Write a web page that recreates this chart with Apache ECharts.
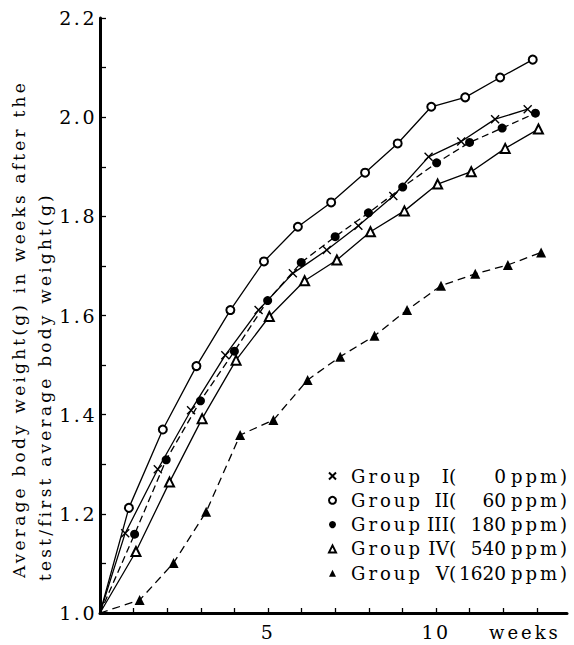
<!DOCTYPE html>
<html><head><meta charset="utf-8">
<script src="https://cdn.jsdelivr.net/npm/echarts@6/dist/echarts.min.js"></script>
<style>
html,body{margin:0;padding:0;background:#fff;}
#chart{width:574px;height:645px;}
#chart text[style*="17px"]{letter-spacing:3.2px;}
#chart text[style*="18px"]{letter-spacing:3px;}
#chart text[style*="19px"]{letter-spacing:2.5px;}
</style></head><body><div id="chart"></div>
<script>
// ---- data ----
const yTitleLine1 = 'Average body weight(g) in weeks after the';
const yTitleLine2 = 'test/first average body weight(g)';
const xAxisName = 'weeks';
const xTickLabels = [5, 10];
const xMinorTicks = [1,2,3,4,5,6,7,8,9,10,11,12,13];
const yTickLabels = [1.0, 1.2, 1.4, 1.6, 1.8, 2.0, 2.2];

const groupNames = ['Group I','Group II','Group III','Group IV','Group V'];
const groupNumerals = ['I','II','III','IV','V'];
const groupDoses = ['0','60','180','540','1620'];
const doseUnit = 'ppm';

const groupI_weeks  = [0, 0.75, 1.72, 2.71, 3.73, 4.72, 5.74, 6.75, 7.69, 8.73, 9.78, 10.75, 11.76, 12.73];
const groupI_vals   = [1.0, 1.161, 1.290, 1.409, 1.520, 1.611, 1.685, 1.732, 1.781, 1.841, 1.920, 1.951, 1.996, 2.016];
const groupII_weeks = [0, 0.86, 1.87, 2.87, 3.88, 4.88, 5.89, 6.88, 7.89, 8.86, 9.86, 10.87, 11.91, 12.88];
const groupII_vals  = [1.0, 1.212, 1.370, 1.498, 1.611, 1.709, 1.779, 1.828, 1.888, 1.947, 2.021, 2.040, 2.080, 2.116];
const groupIII_weeks= [0, 1.03, 1.97, 2.99, 4.00, 4.99, 5.99, 7.00, 7.99, 9.01, 10.02, 11.00, 11.97, 12.96];
const groupIII_vals = [1.0, 1.159, 1.309, 1.428, 1.528, 1.630, 1.707, 1.759, 1.807, 1.859, 1.908, 1.949, 1.978, 2.008];
const groupIV_weeks = [0, 1.07, 2.07, 3.04, 4.05, 5.04, 6.09, 7.05, 8.05, 9.06, 10.05, 11.05, 12.06, 13.05];
const groupIV_vals  = [1.0, 1.124, 1.264, 1.392, 1.510, 1.598, 1.670, 1.712, 1.769, 1.811, 1.865, 1.890, 1.937, 1.976];
const groupV_weeks  = [0, 1.18, 2.19, 3.16, 4.17, 5.16, 6.18, 7.15, 8.17, 9.14, 10.15, 11.17, 12.14, 13.13];
const groupV_vals   = [1.0, 1.026, 1.101, 1.204, 1.359, 1.389, 1.470, 1.517, 1.559, 1.611, 1.660, 1.684, 1.702, 1.727];

// ---- chart ----
const FONT = 'DejaVu Serif';
const CROSS = 'path://M0,0L10,10M10,0L0,10';

// right-align the numeral and dose columns of the legend by measuring them
const mctx = document.createElement('canvas').getContext('2d');
mctx.font = '18.5px "' + FONT + '"';
const measure = s => mctx.measureText(s).width;
const NUM_BOX = 32, DOSE_BOX = 49;
const legendRich = {
  g: {fontFamily: FONT, fontSize: 18, width: 66, padding: [0, 0, 0, 10]},
  p: {fontFamily: FONT, fontSize: 18.5, width: 8},
  u: {fontFamily: FONT, fontSize: 18, padding: [0, 0, 0, 5]}
};
groupNames.forEach((n, i) => {
  legendRich['n' + i] = {fontFamily: FONT, fontSize: 18.5, padding: [0, 0, 0, Math.max(0, NUM_BOX - measure(groupNumerals[i]))]};
  legendRich['d' + i] = {fontFamily: FONT, fontSize: 18.5, padding: [0, 0, 0, Math.max(0, DOSE_BOX - measure(groupDoses[i]))]};
});

function pts(xs, ys) {
  return xs.map((x, i) => i === 0 ? {value: [x, ys[i]], symbol: 'none'} : [x, ys[i]]);
}
function mkSeries(name, xs, ys, symbol, size, dash, borderWidth) {
  return {
    type: 'line', name: name, data: pts(xs, ys),
    symbol: symbol, symbolSize: size, showSymbol: true,
    lineStyle: {color: '#000', width: 1.3, type: dash || 'solid'},
    itemStyle: {color: '#000', borderColor: '#000', borderWidth: borderWidth},
    emphasis: {disabled: true}, silent: true, z: 3
  };
}

const symbols = [CROSS, 'emptyCircle', 'circle', 'emptyTriangle', 'triangle'];

const chart = echarts.init(document.getElementById('chart'), null, {renderer: 'svg'});
chart.setOption({
  animation: false,
  backgroundColor: '#fff',
  grid: {left: 100, right: 7, top: 18, bottom: 32, containLabel: false},
  xAxis: {
    type: 'value', min: 0, max: 13.9,
    name: xAxisName, nameLocation: 'end', nameGap: -78,
    nameTextStyle: {fontFamily: FONT, fontSize: 18, color: '#000', align: 'left', verticalAlign: 'top', padding: [10, 0, 0, 0]},
    axisLine: {show: true, lineStyle: {color: '#000', width: 3}},
    axisTick: {show: true, inside: true, length: 5, lineStyle: {color: '#000', width: 1.3}, customValues: xMinorTicks},
    axisLabel: {show: true, customValues: xTickLabels, fontFamily: FONT, fontSize: 19, color: '#000', margin: 9},
    splitLine: {show: false}
  },
  yAxis: {
    type: 'value', min: 1.0, max: 2.2, interval: 0.1,
    axisLine: {show: true, lineStyle: {color: '#000', width: 3}},
    axisTick: {show: true, inside: true, length: 6, lineStyle: {color: '#000', width: 1.3}},
    axisLabel: {
      fontFamily: FONT, fontSize: 19, color: '#000', margin: 3,
      formatter: v => {
        const hit = yTickLabels.find(t => Math.abs(t - v) < 1e-6);
        return hit !== undefined ? hit.toFixed(1) : '';
      }
    },
    splitLine: {show: false}
  },
  legend: {
    orient: 'vertical', left: 328, top: 466, padding: 0,
    itemWidth: 7, itemHeight: 7, itemGap: 4.3,
    selectedMode: false,
    data: groupNames.map((n, i) => ({name: n, icon: symbols[i]})),
    formatter: name => {
      const i = groupNames.indexOf(name);
      return '{g|Group}{n' + i + '|' + groupNumerals[i] + '}{p|(}{d' + i + '|' + groupDoses[i] + '}{u|' + doseUnit + ')}';
    },
    textStyle: {fontFamily: FONT, fontSize: 18, color: '#000', lineHeight: 20, rich: legendRich}
  },
  graphic: [
    {type: 'text', x: 19, y: 578, rotation: Math.PI / 2, silent: true,
     style: {text: yTitleLine1, fontFamily: FONT, fontSize: 17, fill: '#000', textAlign: 'left', textVerticalAlign: 'middle'}},
    {type: 'text', x: 45, y: 581, rotation: Math.PI / 2, silent: true,
     style: {text: yTitleLine2, fontFamily: FONT, fontSize: 17, fill: '#000', textAlign: 'left', textVerticalAlign: 'middle'}}
  ],
  series: [
    mkSeries(groupNames[0], groupI_weeks, groupI_vals, CROSS, 8, 'solid', 1.4),
    mkSeries(groupNames[1], groupII_weeks, groupII_vals, 'emptyCircle', 8, 'solid', 1.3),
    mkSeries(groupNames[2], groupIII_weeks, groupIII_vals, 'circle', 9, [7, 4], 0),
    mkSeries(groupNames[3], groupIV_weeks, groupIV_vals, 'emptyTriangle', 9, 'solid', 1.3),
    mkSeries(groupNames[4], groupV_weeks, groupV_vals, 'triangle', 10, [8, 5], 0)
  ]
});
</script></body></html>
